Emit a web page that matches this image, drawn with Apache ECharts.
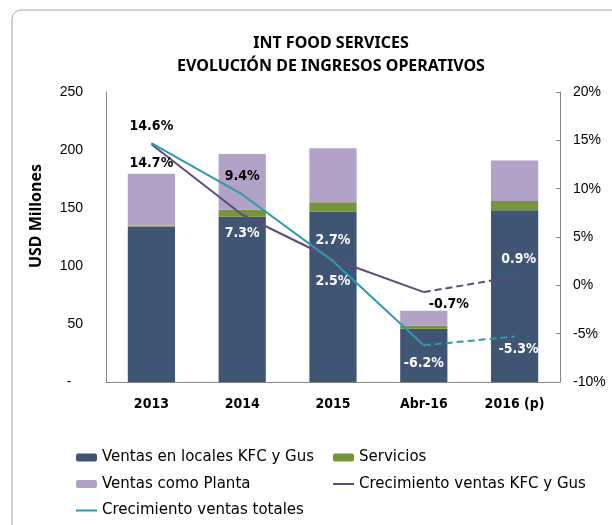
<!DOCTYPE html>
<html>
<head>
<meta charset="utf-8">
<script src="https://cdn.jsdelivr.net/npm/echarts@6/dist/echarts.min.js"></script>
<style>
  html, body { margin: 0; padding: 0; background: #fff; }
  #chart { width: 612px; height: 525px; }
</style>
</head>
<body>
<div id="chart"></div>
<script>
// datos
const categorias = ['2013', '2014', '2015', 'Abr-16', '2016 (p)'];
const ventasLocales = [134, 142.5, 147, 46, 148];
const servicios = [0.6, 6, 8, 2.5, 8];
const ventasPlanta = [45, 48, 46.5, 13, 35];
const crecKfc = [14.6, 7.3, 2.7, -0.7, 0.9];
const crecTotal = [14.7, 9.4, 2.5, -6.2, -5.3];
const ticksIzq = [0, 50, 100, 150, 200, 250];
const ticksDer = [-10, -5, 0, 5, 10, 15, 20];

const colores = {
  locales: '#3F5573',
  servicios: '#77933C',
  planta: '#B3A2C7',
  kfc: '#604A7B',
  total: '#2E9AAE'
};

const fuente = 'DejaVu Sans Condensed';

// posición de cada etiqueta: [lado, distancia, dx, color]
const posKfc = [
  ['top', 10, 0, '#000'],
  ['bottom', 11, 0, '#fff'],
  ['top', 11, 0, '#fff'],
  ['bottom', 4, 25, '#000'],
  ['top', 9, 4, '#fff']
];
const posTotal = [
  ['bottom', 12, 0, '#000'],
  ['top', 10, 0, '#000'],
  ['bottom', 12, 0, '#fff'],
  ['bottom', 10, 0, '#fff'],
  ['bottom', 5, 4, '#fff']
];

function puntos (valores, pos, desde, hasta, conEtiqueta) {
  return valores.map(function (v, i) {
    if (i < desde || i > hasta) return null;
    const p = pos[i];
    return {
      value: v,
      label: {
        show: conEtiqueta(i),
        position: p[0],
        distance: p[1],
        offset: [p[2], 0],
        color: p[3],
        fontFamily: fuente,
        fontWeight: 'bold',
        fontSize: 14,
        formatter: function (d) { return d.value.toFixed(1) + '%'; }
      }
    };
  });
}

function lineas (nombre, valores, pos, color) {
  const base = {
    name: nombre,
    type: 'line',
    yAxisIndex: 1,
    symbol: 'circle',
    symbolSize: 2,
    itemStyle: { color: 'rgba(0,0,0,0)' },
    lineStyle: { color: color, width: 2 },
    z: 5
  };
  return [
    Object.assign({}, base, {
      data: puntos(valores, pos, 0, 3, function (i) { return i <= 3; })
    }),
    Object.assign({}, base, {
      lineStyle: { color: color, width: 2, type: [7, 4] },
      data: puntos(valores, pos, 3, 4, function (i) { return i === 4; })
    })
  ];
}

const chart = echarts.init(document.getElementById('chart'));

const option = {
  animation: false,
  graphic: [{
    type: 'rect',
    shape: { x: 12, y: 10, width: 640, height: 560, r: 9 },
    style: { fill: 'none', stroke: '#A6A6A6', lineWidth: 1 },
    silent: true
  }],
  title: {
    text: 'INT FOOD SERVICES\nEVOLUCIÓN DE INGRESOS OPERATIVOS',
    left: 326,
    textAlign: 'center',
    top: 27,
    textStyle: {
      fontFamily: 'Noto Sans',
      fontWeight: 'bold',
      fontSize: 16,
      lineHeight: 23,
      color: '#000'
    }
  },
  grid: { left: 106, right: 52, top: 92, bottom: 143 },
  legend: [{
    orient: 'vertical',
    left: 70,
    top: 445,
    itemWidth: 21,
    itemHeight: 8,
    itemGap: 11.5,
    textStyle: { fontFamily: 'DejaVu Sans', fontSize: 15, color: '#000' },
    data: ['Ventas en locales KFC y Gus', 'Ventas como Planta', 'Crecimiento ventas totales']
  }, {
    orient: 'vertical',
    left: 327,
    top: 445,
    itemWidth: 21,
    itemHeight: 8,
    itemGap: 11.5,
    textStyle: { fontFamily: 'DejaVu Sans', fontSize: 15, color: '#000' },
    data: ['Servicios', 'Crecimiento ventas KFC y Gus']
  }],
  xAxis: {
    type: 'category',
    data: categorias,
    axisLine: { lineStyle: { color: '#868686' } },
    axisTick: { show: false },
    axisLabel: {
      margin: 15,
      fontFamily: fuente,
      fontWeight: 'bold',
      fontSize: 14,
      color: '#000'
    }
  },
  yAxis: [{
    type: 'value',
    min: ticksIzq[0],
    max: ticksIzq[ticksIzq.length - 1],
    interval: 50,
    name: 'USD Millones',
    nameLocation: 'middle',
    nameRotate: 90,
    nameGap: 62,
    nameTextStyle: {
      fontFamily: 'Noto Sans',
      fontWeight: 'bold',
      fontSize: 16,
      color: '#000',
      padding: [0, 0, 0, 42]
    },
    axisLine: { show: true, lineStyle: { color: '#868686' } },
    axisTick: { show: false },
    splitLine: { show: false },
    axisLabel: {
      margin: 23,
      fontFamily: 'Liberation Sans',
      fontSize: 14,
      color: '#000',
      formatter: function (v) { return v === 0 ? '-   ' : String(v); }
    }
  }, {
    type: 'value',
    min: ticksDer[0],
    max: ticksDer[ticksDer.length - 1],
    interval: 5,
    position: 'right',
    axisLine: { show: true, lineStyle: { color: '#868686' } },
    axisTick: { show: true, inside: true, length: 4, lineStyle: { color: '#868686' } },
    splitLine: { show: false },
    axisLabel: {
      margin: 13,
      fontFamily: 'Liberation Sans',
      fontSize: 14,
      color: '#000',
      formatter: function (v) { return v + '%'; }
    }
  }],
  series: [{
    name: 'Ventas en locales KFC y Gus',
    type: 'bar',
    stack: 'ingresos',
    data: ventasLocales,
    barCategoryGap: '48%',
    itemStyle: { color: colores.locales }
  }, {
    name: 'Servicios',
    type: 'bar',
    stack: 'ingresos',
    data: servicios,
    itemStyle: { color: colores.servicios }
  }, {
    name: 'Ventas como Planta',
    type: 'bar',
    stack: 'ingresos',
    data: ventasPlanta,
    itemStyle: { color: colores.planta }
  }]
    .concat(lineas('Crecimiento ventas KFC y Gus', crecKfc, posKfc, colores.kfc))
    .concat(lineas('Crecimiento ventas totales', crecTotal, posTotal, colores.total))
};

chart.setOption(option);
</script>
</body>
</html>
